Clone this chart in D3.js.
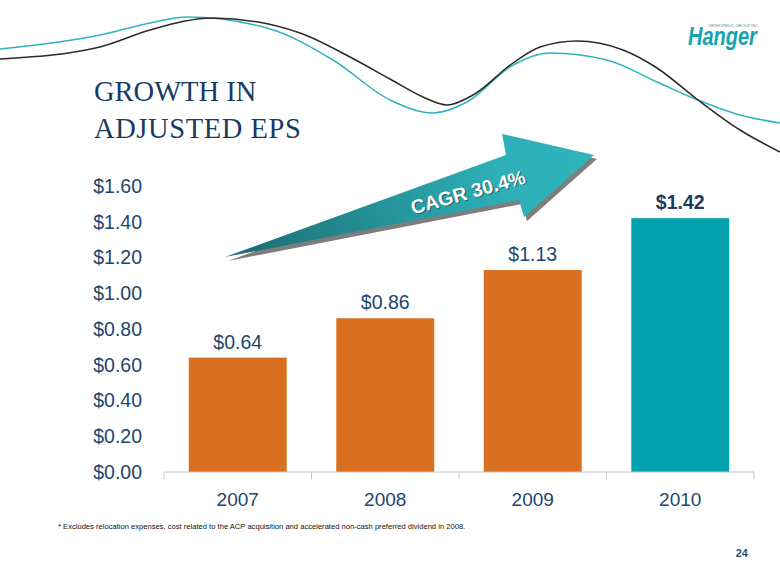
<!DOCTYPE html>
<html>
<head>
<meta charset="utf-8">
<script src="https://cdn.jsdelivr.net/npm/d3@7"></script>
<style>
  html, body { margin: 0; padding: 0; background: #ffffff; }
  svg { display: block; }
</style>
</head>
<body>
<script>
// ---------- data ----------
const categories = ["2007", "2008", "2009", "2010"];
const epsValues = [0.64, 0.86, 1.13, 1.42];
const valueLabels = ["$0.64", "$0.86", "$1.13", "$1.42"];
const yTicks = [0, 0.2, 0.4, 0.6, 0.8, 1.0, 1.2, 1.4, 1.6];
const titleLines = ["GROWTH IN", "ADJUSTED EPS"];
const arrowLabel = "CAGR 30.4%";
const footnote = "* Excludes relocation expenses, cost related to the ACP acquisition and accelerated non-cash preferred dividend in 2008.";
const pageNumber = "24";

// decorative wave guide points (top banner)
const blackWave = [[0,59],[100,47],[150,30],[213,18],[300,33],[350,57],[390,79],[423,97],[447,105],[473,95],[513,63],[540,47],[577,41],[623,50],[657,68],[698,100],[740,130],[780,152]];
const cyanWave  = [[0,49],[100,35],[150,23],[187,17],[267,28],[333,60],[390,100],[433,113],[467,102],[513,65],[550,53],[607,60],[657,82],[698,100],[740,115],[780,123]];
// decorative arrow outline
const arrowShape = [[225,257],[506,155],[502,134],[594,155],[524,217],[519,200]];

// ---------- setup ----------
const W = 780, H = 585;
const svg = d3.select("body").append("svg").attr("width", W).attr("height", H);
const defs = svg.append("defs");
const grad = defs.append("linearGradient").attr("id", "arrowGrad")
  .attr("gradientUnits", "userSpaceOnUse")
  .attr("x1", 225).attr("y1", 257).attr("x2", 594).attr("y2", 155);
grad.append("stop").attr("offset", "0%").attr("stop-color", "#1b6a6f");
grad.append("stop").attr("offset", "45%").attr("stop-color", "#25959b");
grad.append("stop").attr("offset", "75%").attr("stop-color", "#2db0b7");
grad.append("stop").attr("offset", "100%").attr("stop-color", "#30b4bb");

const navy = "#21466e";

// ---------- waves ----------
const waveLine = d3.line().curve(d3.curveMonotoneX);
svg.append("path").attr("d", waveLine(cyanWave)).attr("fill", "none")
  .attr("stroke", "#2db4bf").attr("stroke-width", 1.5);
svg.append("path").attr("d", waveLine(blackWave)).attr("fill", "none")
  .attr("stroke", "#2a2a2a").attr("stroke-width", 1.5);

// ---------- logo ----------
const logo = svg.append("g");
logo.append("text")
  .attr("transform", "translate(688,45) scale(0.8,1)")
  .attr("font-family", "Liberation Sans, Arial, sans-serif")
  .attr("font-weight", "bold").attr("font-style", "italic")
  .attr("font-size", 25).attr("fill", "#12a3b0")
  .text("Hanger");
logo.append("text")
  .attr("x", 708).attr("y", 26.5)
  .attr("font-family", "Liberation Sans, Arial, sans-serif")
  .attr("font-size", 4.2).attr("fill", "#4a8f98")
  .attr("textLength", 51).attr("lengthAdjust", "spacingAndGlyphs")
  .text("ORTHOPEDIC GROUP INC.");

// ---------- title ----------
svg.append("g").selectAll("text").data(titleLines).join("text")
  .attr("x", 94).attr("y", (d, i) => 101 + i * 37)
  .attr("font-family", "Liberation Serif, 'Times New Roman', serif")
  .attr("font-size", 28.5).attr("fill", "#173b63")
  .attr("letter-spacing", (d, i) => i === 1 ? 0.6 : 0)
  .text(d => d);

// ---------- scales ----------
const x = d3.scaleBand().domain(categories).range([164, 754])
  .paddingInner(0.336).paddingOuter(0.168);
const y = d3.scaleLinear().domain([0, 1.6]).range([472, 186]);

// ---------- y axis labels ----------
const yAxis = d3.axisLeft(y).tickValues(yTicks).tickSize(0).tickPadding(0)
  .tickFormat(d => "$" + d3.format(".2f")(d));
const yg = svg.append("g").attr("transform", "translate(142,0)").call(yAxis);
yg.select(".domain").remove();
yg.selectAll("text").attr("font-family", "Liberation Sans, Arial, sans-serif")
  .attr("font-size", 19.5).attr("fill", navy);

// ---------- bars ----------
svg.append("g").selectAll("rect").data(epsValues).join("rect")
  .attr("x", (d, i) => x(categories[i]))
  .attr("y", d => y(d))
  .attr("width", x.bandwidth())
  .attr("height", d => y(0) - y(d))
  .attr("fill", (d, i) => i === 3 ? "#02a1ae" : "#d97021");

// ---------- x axis ----------
const xAxis = d3.axisBottom(x).tickSize(0).tickPadding(0);
const xg = svg.append("g").attr("transform", "translate(0,472)").call(xAxis);
xg.select(".domain").attr("stroke", "#c6c6c6").attr("stroke-width", 1)
  .attr("d", "M164,0H754");
xg.selectAll("text").attr("dy", null).attr("y", 34)
  .attr("font-family", "Liberation Sans, Arial, sans-serif")
  .attr("font-size", 19).attr("fill", navy);
// boundary tick marks between categories
const bounds = categories.map(c => x(c) - x.step() * x.paddingInner() / 2);
bounds.push(x(categories[categories.length - 1]) + x.bandwidth() + x.step() * x.paddingInner() / 2);
xg.selectAll("line.bound").data(bounds).join("line").attr("class", "bound")
  .attr("x1", d => d).attr("x2", d => d).attr("y1", 0).attr("y2", 7)
  .attr("stroke", "#c6c6c6").attr("stroke-width", 1);

// ---------- value labels ----------
svg.append("g").selectAll("text").data(epsValues).join("text")
  .attr("x", (d, i) => x(categories[i]) + x.bandwidth() / 2)
  .attr("y", d => y(d) - 9)
  .attr("text-anchor", "middle")
  .attr("font-family", "Liberation Sans, Arial, sans-serif")
  .attr("font-size", 19.5)
  .attr("font-weight", (d, i) => i === 3 ? "bold" : "normal")
  .attr("fill", (d, i) => i === 3 ? "#1a3a5e" : navy)
  .text((d, i) => valueLabels[i]);

// ---------- arrow ----------
const arrowPath = d3.line().curve(d3.curveLinearClosed);
svg.append("path").attr("d", arrowPath(arrowShape))
  .attr("transform", "translate(3,4)").attr("fill", "#7d7d7d");
svg.append("path").attr("d", arrowPath(arrowShape)).attr("fill", "url(#arrowGrad)");
const ang = Math.atan2(155 - 257, 594 - 225) * 180 / Math.PI;
svg.append("text")
  .attr("transform", `translate(468,192) rotate(${ang})`)
  .attr("text-anchor", "middle").attr("dominant-baseline", "central")
  .attr("font-family", "Liberation Sans, Arial, sans-serif")
  .attr("font-weight", "bold").attr("font-size", 19.5)
  .attr("fill", "#1d5f63").attr("dx", 1).attr("dy", 1)
  .text(arrowLabel);
svg.append("text")
  .attr("transform", `translate(468,192) rotate(${ang})`)
  .attr("text-anchor", "middle").attr("dominant-baseline", "central")
  .attr("font-family", "Liberation Sans, Arial, sans-serif")
  .attr("font-weight", "bold").attr("font-size", 19.5)
  .attr("fill", "#ffffff")
  .text(arrowLabel);

// ---------- footnote & page number ----------
svg.append("text").attr("x", 58).attr("y", 529)
  .attr("font-family", "Liberation Sans, Arial, sans-serif")
  .attr("font-size", 7.6).attr("fill", "#111111")
  .text(footnote);
svg.append("text").attr("x", 748).attr("y", 557).attr("text-anchor", "end")
  .attr("font-family", "Liberation Sans, Arial, sans-serif")
  .attr("font-size", 11).attr("font-weight", "bold").attr("fill", "#2a4d74")
  .text(pageNumber);
</script>
</body>
</html>
